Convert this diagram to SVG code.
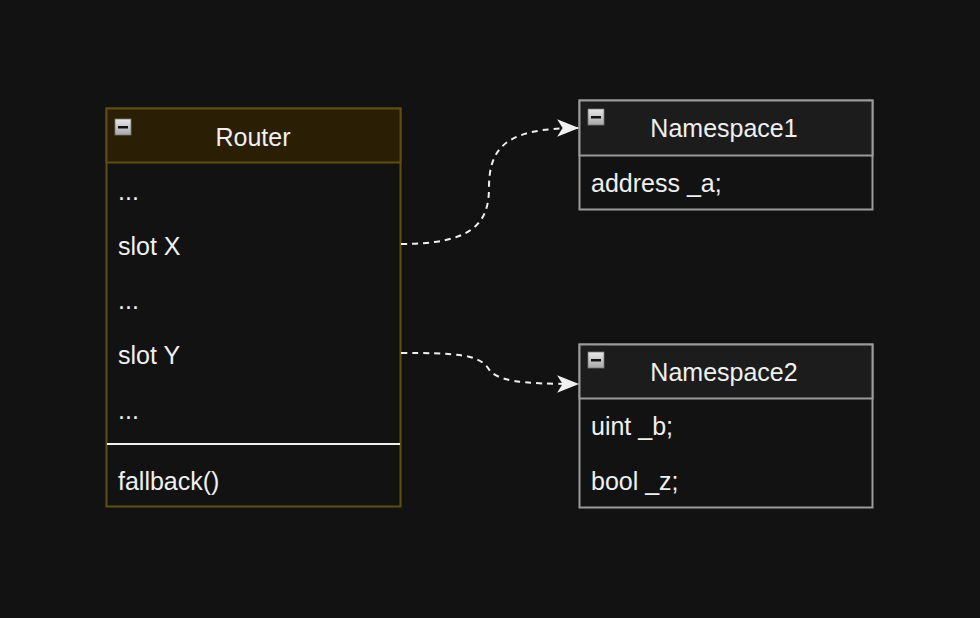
<svg xmlns="http://www.w3.org/2000/svg" width="980" height="618" viewBox="0 0 980 618">
<style>
text{font-family:"Liberation Sans",Arial,sans-serif;font-size:25px;fill:#f0f0f0}
.title{text-anchor:middle}
.conn{fill:none;stroke:#f0f0f0;stroke-width:2;stroke-dasharray:6 5}
</style>
<defs>
<linearGradient id="ig" x1="0" y1="0" x2="0" y2="1">
<stop offset="0" stop-color="#e8e8e8"/>
<stop offset="1" stop-color="#a8a8a8"/>
</linearGradient>
<g id="icon">
<rect x="0" y="0" width="16" height="16" fill="url(#ig)" stroke="#777" stroke-width="0.8"/>
<rect x="3" y="7" width="10" height="2.5" fill="#111"/>
</g>
<marker id="arr" viewBox="0 0 20 16" refX="19" refY="8" markerWidth="22" markerHeight="18" markerUnits="userSpaceOnUse" orient="auto">
<path d="M0,0 L20,8 L0,16 L5,8 Z" fill="#f0f0f0"/>
</marker>
</defs>
<rect width="980" height="618" fill="#121212"/>
<g id="router">
<rect x="106.5" y="108.5" width="294" height="398" fill="#121212" stroke="#5e4e12" stroke-width="2"/>
<rect x="106.5" y="108.5" width="294" height="54" fill="#2a1e05" stroke="#5e4e12" stroke-width="2"/>
<use href="#icon" x="115" y="119"/>
<text class="title" x="253" y="146">Router</text>
<text x="118" y="200">...</text>
<text x="118" y="255">slot X</text>
<text x="118" y="309">...</text>
<text x="118" y="364">slot Y</text>
<text x="118" y="419">...</text>
<line x1="107" y1="444" x2="400" y2="444" stroke="#f0f0f0" stroke-width="2"/>
<text x="118" y="490">fallback()</text>
</g>
<g id="namespace1">
<rect x="579.5" y="100.5" width="293" height="109" fill="#121212" stroke="#9a9a9a" stroke-width="2"/>
<rect x="579.5" y="100.5" width="293" height="55" fill="#1c1c1c" stroke="#9a9a9a" stroke-width="2"/>
<use href="#icon" x="588" y="109"/>
<text class="title" x="724" y="137">Namespace1</text>
<text x="591" y="192">address _a;</text>
</g>
<g id="namespace2">
<rect x="579.5" y="344.5" width="293" height="163" fill="#121212" stroke="#9a9a9a" stroke-width="2"/>
<rect x="579.5" y="344.5" width="293" height="54" fill="#1c1c1c" stroke="#9a9a9a" stroke-width="2"/>
<use href="#icon" x="588" y="352"/>
<text class="title" x="724" y="381">Namespace2</text>
<text x="591" y="435">uint _b;</text>
<text x="591" y="490">bool _z;</text>
</g>
<g id="connectors">
<path class="conn" d="M401,244 C470,244 489,225 489,188 C489,148 505,128 578,128" marker-end="url(#arr)"/>
<path class="conn" d="M401,353 C455,353 478,354 488,368 C496,381 520,384 578,384" marker-end="url(#arr)"/>
</g>
</svg>
